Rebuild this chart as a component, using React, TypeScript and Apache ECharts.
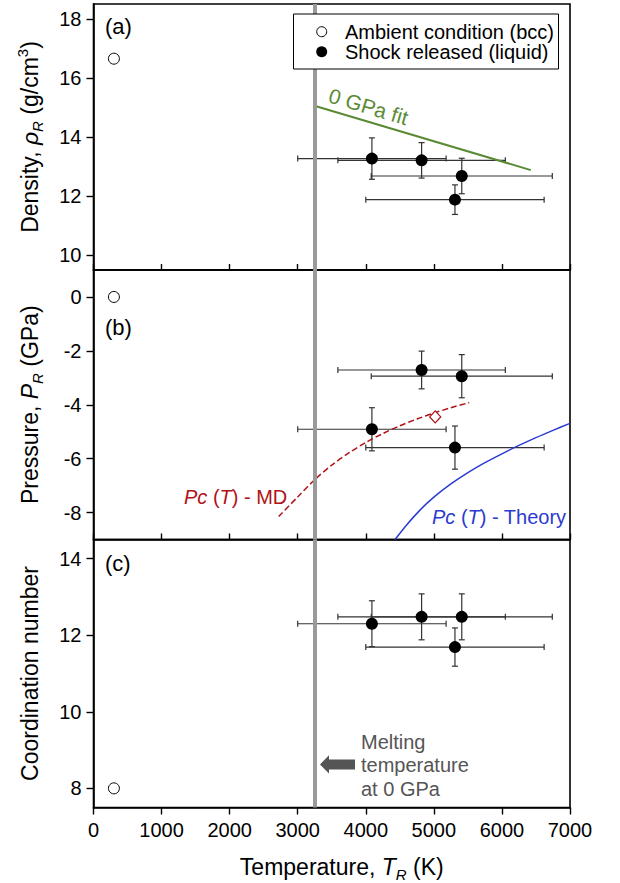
import React, { useEffect, useRef } from 'react';
import * as echarts from 'echarts';

// ---------- data ----------
const temps = [4090, 4820, 5410, 5310];
const tempErr = [1090, 1230, 1330, 1310];
const density = [13.27, 13.21, 12.68, 11.88];
const densityErr = [0.7, 0.6, 0.6, 0.5];
const pressure = [-4.91, -2.71, -2.94, -5.59];
const pressureErr = [0.8, 0.7, 0.8, 0.8];
const coordination = [12.3, 12.48, 12.48, 11.69];
const coordinationErr = [0.6, 0.6, 0.6, 0.5];

const ambientT = [300];
const ambientDensity = [16.65];
const ambientPressure = [0];
const ambientCoordination = [8];

const meltT = 3250;

const fitT = [3270, 6425];
const fitDensity = [15.04, 12.88];

const mdT = [2720, 3000, 3250, 3500, 3750, 4000, 4250, 4500, 4750, 5000, 5250, 5520];
const mdP = [-8.15, -7.42, -6.78, -6.24, -5.79, -5.4, -5.07, -4.78, -4.53, -4.31, -4.11, -3.92];
const mdPointT = [5020];
const mdPointP = [-4.45];

const theoryT = [4430, 4600, 4800, 5000, 5250, 5500, 5750, 6000, 6250, 6500, 6750, 7000];
const theoryP = [-9.0, -8.46, -7.9, -7.43, -6.94, -6.52, -6.15, -5.82, -5.51, -5.22, -4.95, -4.69];

const xTicks = [0, 1000, 2000, 3000, 4000, 5000, 6000, 7000];
const densityTicks = [10, 12, 14, 16, 18];
const pressureTicks = [-8, -6, -4, -2, 0];
const coordinationTicks = [8, 10, 12, 14];

const legendLabels = ['Ambient condition (bcc)', 'Shock released (liquid)'];
const panelLabels = ['(a)', '(b)', '(c)'];

// ---------- styling ----------
const FONT = '"Liberation Sans", Arial, Helvetica, sans-serif';
const GREEN = '#5b8a35';
const RED = '#b01218';
const BLUE = '#2b3bd0';
const GRAY = '#9a9a9a';

const zip2 = (a: number[], b: number[]) => a.map((v, i) => [v, b[i]]);
const zip4 = (a: number[], b: number[], c: number[], d: number[]) =>
  a.map((v, i) => [v, b[i], c[i], d[i]]);

const errorRender = (params: any, api: any) => {
  const x = api.value(0);
  const y = api.value(1);
  const xe = api.value(2);
  const ye = api.value(3);
  const c = api.coord([x, y]);
  const l = api.coord([x - xe, y]);
  const r = api.coord([x + xe, y]);
  const t = api.coord([x, y + ye]);
  const b = api.coord([x, y - ye]);
  const cap = 3;
  const st = { stroke: '#333', lineWidth: 1.2 };
  const ln = (x1: number, y1: number, x2: number, y2: number) => ({
    type: 'line',
    shape: { x1, y1, x2, y2 },
    style: st,
  });
  return {
    type: 'group',
    children: [
      ln(l[0], c[1], r[0], c[1]),
      ln(l[0], c[1] - cap, l[0], c[1] + cap),
      ln(r[0], c[1] - cap, r[0], c[1] + cap),
      ln(c[0], t[1], c[0], b[1]),
      ln(c[0] - cap, t[1], c[0] + cap, t[1]),
      ln(c[0] - cap, b[1], c[0] + cap, b[1]),
    ],
  };
};

const richName = {
  a: { fontSize: 23, fontFamily: FONT, color: '#000', lineHeight: 30 },
  i: { fontSize: 23, fontFamily: FONT, color: '#000', fontStyle: 'italic', lineHeight: 30 },
  s: {
    fontSize: 15,
    fontFamily: FONT,
    color: '#000',
    fontStyle: 'italic',
    lineHeight: 15,
    verticalAlign: 'bottom',
  },
  sup: { fontSize: 15, fontFamily: FONT, color: '#000', lineHeight: 18, verticalAlign: 'top' },
};

export default function App() {
  const ref = useRef<HTMLDivElement>(null);

  useEffect(() => {
    if (!ref.current) return;
    const chart = echarts.init(ref.current, null, { renderer: 'svg' });

    const gridLeft = 93.5;
    const gridWidth = 476.5;
    const grids = [
      { left: gridLeft, width: gridWidth, top: 4, height: 266 },
      { left: gridLeft, width: gridWidth, top: 270, height: 269.5 },
      { left: gridLeft, width: gridWidth, top: 539.5, height: 268 },
    ].map((g) => ({ ...g, show: true, borderColor: '#000', borderWidth: 1.6, backgroundColor: 'transparent' }));

    const xAxes = [0, 1, 2].map((i) => ({
      gridIndex: i,
      type: 'value',
      min: 0,
      max: 7000,
      interval: 1000,
      axisLine: { show: true, onZero: false, lineStyle: { color: '#000', width: 1.6 } },
      axisTick: {
        show: true,
        inside: i < 2,
        length: i < 2 ? 6 : 7,
        customValues: xTicks,
        lineStyle: { color: '#000', width: 1.4 },
      },
      axisLabel: {
        show: i === 2,
        customValues: xTicks,
        formatter: (v: number) => String(v),
        fontSize: 20,
        fontFamily: FONT,
        color: '#000',
        margin: 12,
      },
      splitLine: { show: false },
      ...(i === 2
        ? {
            name: '{a|Temperature, }{i|T}{s|R}{a| (K)}',
            nameLocation: 'middle',
            nameGap: 44,
            nameTextStyle: { rich: richName, padding: [0, 0, 0, 20] },
          }
        : {}),
    }));

    const yBase = (i: number, min: number, max: number, ticks: number[], name: string) => ({
      gridIndex: i,
      type: 'value',
      min,
      max,
      axisLine: { show: true, onZero: false, lineStyle: { color: '#000', width: 1.6 } },
      axisTick: { show: true, length: 7, customValues: ticks, lineStyle: { color: '#000', width: 1.4 } },
      axisLabel: {
        customValues: ticks,
        formatter: (v: number) => String(v),
        fontSize: 20,
        fontFamily: FONT,
        color: '#000',
        margin: 12,
      },
      splitLine: { show: false },
      name,
      nameLocation: 'middle',
      nameRotate: 90,
      nameGap: 49,
      nameTextStyle: { rich: richName },
    });

    const yAxes = [
      yBase(0, 9.5, 18.5, densityTicks, '{a|Density, }{i|ρ}{s|R}{a| (g/cm}{sup|3}{a|)}'),
      yBase(1, -9, 1, pressureTicks, '{a|Pressure, }{i|P}{s|R}{a| (GPa)}'),
      yBase(2, 7.5, 14.5, coordinationTicks, '{a|Coordination number}'),
    ];

    const meltLine = {
      silent: true,
      symbol: ['none', 'none'],
      label: { show: false },
      lineStyle: { color: GRAY, width: 4, type: 'solid', opacity: 1 },
      data: [{ xAxis: meltT }],
    };

    const panelSeries = (i: number, vals: number[], errs: number[], amb: number[]) => [
      {
        type: 'custom',
        xAxisIndex: i,
        yAxisIndex: i,
        renderItem: errorRender,
        data: zip4(temps, vals, tempErr, errs),
        encode: { x: 0, y: 1 },
        z: 3,
        silent: true,
      },
      {
        type: 'scatter',
        xAxisIndex: i,
        yAxisIndex: i,
        symbol: 'circle',
        symbolSize: 12,
        itemStyle: { color: '#000', opacity: 1 },
        data: zip2(temps, vals),
        z: 5,
      },
      {
        type: 'scatter',
        xAxisIndex: i,
        yAxisIndex: i,
        symbol: 'circle',
        symbolSize: 11,
        itemStyle: { color: '#fff', borderColor: '#000', borderWidth: 1, opacity: 1 },
        data: zip2(ambientT, amb),
        markLine: meltLine,
        z: 2,
      },
    ];

    const series: any[] = [
      ...panelSeries(0, density, densityErr, ambientDensity),
      ...panelSeries(1, pressure, pressureErr, ambientPressure),
      ...panelSeries(2, coordination, coordinationErr, ambientCoordination),
      {
        type: 'line',
        xAxisIndex: 0,
        yAxisIndex: 0,
        data: zip2(fitT, fitDensity),
        showSymbol: false,
        lineStyle: { color: GREEN, width: 2 },
        z: 4,
      },
      {
        type: 'line',
        xAxisIndex: 1,
        yAxisIndex: 1,
        data: zip2(mdT, mdP),
        smooth: 0.3,
        showSymbol: false,
        lineStyle: { color: RED, width: 1.5, type: [6, 3] },
        z: 4,
      },
      {
        type: 'scatter',
        xAxisIndex: 1,
        yAxisIndex: 1,
        symbol: 'diamond',
        symbolSize: [11, 12],
        itemStyle: { color: '#fff', borderColor: RED, borderWidth: 1.3, opacity: 1 },
        data: zip2(mdPointT, mdPointP),
        z: 5,
      },
      {
        type: 'line',
        xAxisIndex: 1,
        yAxisIndex: 1,
        data: zip2(theoryT, theoryP),
        smooth: 0.3,
        showSymbol: false,
        lineStyle: { color: BLUE, width: 1.5 },
        z: 4,
      },
    ];

    const txt = (x: number, y: number, text: string, extra: any = {}, rot = 0) => ({
      type: 'text',
      x,
      y,
      rotation: rot,
      z: 110,
      style: {
        text,
        fontSize: 20,
        fontFamily: FONT,
        fill: '#000',
        align: 'left',
        textAlign: 'left',
        verticalAlign: 'middle',
        textVerticalAlign: 'middle',
        ...extra,
      },
    });

    const italRich = (color: string) => ({
      i: { fontStyle: 'italic', fontSize: 20, fontFamily: FONT, color },
      n: { fontSize: 20, fontFamily: FONT, color },
    });

    const graphic: any[] = [
      {
        type: 'rect',
        z: 100,
        shape: { x: 293.5, y: 14, width: 265, height: 55 },
        style: { fill: '#fff', stroke: '#000', lineWidth: 1 },
      },
      {
        type: 'circle',
        z: 101,
        shape: { cx: 321.7, cy: 31.7, r: 5 },
        style: { fill: '#fff', stroke: '#000', lineWidth: 1 },
      },
      {
        type: 'circle',
        z: 101,
        shape: { cx: 321.7, cy: 51.7, r: 5.5 },
        style: { fill: '#000' },
      },
      txt(345, 32, legendLabels[0]),
      txt(345, 52, legendLabels[1]),
      txt(105, 26, panelLabels[0], { fontSize: 22 }),
      txt(105, 327.5, panelLabels[1], { fontSize: 22 }),
      txt(105, 563.5, panelLabels[2], { fontSize: 22 }),
      txt(368.5, 106.5, '0 GPa fit', { fill: GREEN, fontSize: 21, align: 'center', textAlign: 'center' }, -0.29),
      txt(184, 496.5, '{i|Pc} {n|(}{i|T}{n|) - MD}', { fill: RED, rich: italRich(RED) }),
      txt(432, 516.5, '{i|Pc} {n|(}{i|T}{n|) - Theory}', { fill: BLUE, rich: italRich(BLUE) }),
      txt(361, 765, 'Melting\ntemperature\nat 0 GPa', { fill: '#555', lineHeight: 23.5 }),
      {
        type: 'polygon',
        z: 105,
        shape: {
          points: [
            [320, 764.4],
            [329, 755.3],
            [329, 759.4],
            [355, 759.4],
            [355, 769.4],
            [329, 769.4],
            [329, 773.5],
          ],
        },
        style: { fill: '#555' },
      },
    ];

    chart.setOption({
      animation: false,
      backgroundColor: '#fff',
      grid: grids,
      xAxis: xAxes,
      yAxis: yAxes,
      series,
      graphic,
    });

    return () => chart.dispose();
  }, []);

  return (
    <div
      ref={ref}
      style={{ position: 'absolute', left: 0, top: 0, width: 620, height: 883 }}
    />
  );
}
